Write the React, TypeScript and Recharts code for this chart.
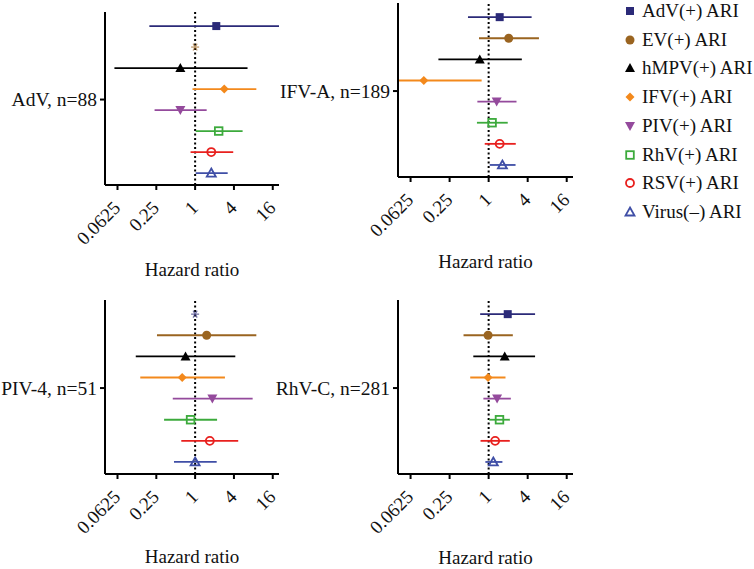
import React from "react";
import {
  ReferenceLine,
  Scatter,
  ScatterChart,
  XAxis,
  YAxis,
} from "recharts";

// series (rows, top to bottom)
const seriesNames = [
  "AdV(+) ARI",
  "EV(+) ARI",
  "hMPV(+) ARI",
  "IFV(+) ARI",
  "PIV(+) ARI",
  "RhV(+) ARI",
  "RSV(+) ARI",
  "Virus(\u2013) ARI",
];
const seriesColors = [
  "#2b2a78",
  "#9a6420",
  "#000000",
  "#f3891c",
  "#944a9c",
  "#3caa3c",
  "#e8201e",
  "#3f4ea6",
];
const seriesShapes = [
  "square",
  "circle",
  "triangle",
  "diamond",
  "downTriangle",
  "openSquare",
  "openCircle",
  "openTriangle",
];

const xTicks = [0.0625, 0.25, 1, 4, 16];

// panels: null hr = not estimable (drawn as * at HR 1)
const panelLabels = ["AdV, n=88", "IFV-A, n=189", "PIV-4, n=51", "RhV-C, n=281"];

const advHr = [2.13, null, 0.59, 2.83, 0.59, 2.32, 1.78, 1.78];
const advLo = [0.195, null, 0.056, 0.91, 0.235, 1.02, 0.85, 1.02];
const advHi = [20, null, 6.5, 8.9, 1.51, 5.45, 3.9, 3.2];

const ifvHr = [1.48, 2.04, 0.73, 0.1, 1.33, 1.13, 1.48, 1.63];
const ifvLo = [0.48, 0.71, 0.168, 0.04, 0.67, 0.66, 0.87, 1.04];
const ifvHi = [4.6, 5.97, 3.25, 0.78, 2.69, 1.97, 2.62, 2.6];

const pivHr = [null, 1.51, 0.71, 0.63, 1.85, 0.85, 1.69, 1.0];
const pivLo = [null, 0.256, 0.12, 0.141, 0.45, 0.33, 0.61, 0.47];
const pivHi = [null, 8.9, 4.2, 2.9, 7.8, 2.19, 4.66, 2.16];

const rhvHr = [1.97, 0.98, 1.77, 0.98, 1.35, 1.47, 1.26, 1.18];
const rhvLo = [0.74, 0.41, 0.58, 0.52, 0.83, 1.02, 0.75, 0.89];
const rhvHi = [5.2, 2.36, 5.2, 1.82, 2.2, 2.12, 2.12, 1.63];

const FONT = "Liberation Serif";

function Marker({ kind, color, cx, cy }: { kind: string; color: string; cx: number; cy: number }) {
  const sw = 1.8;
  switch (kind) {
    case "square":
      return <rect x={cx - 4} y={cy - 4} width={8} height={8} fill={color} />;
    case "circle":
      return <circle cx={cx} cy={cy} r={4.5} fill={color} />;
    case "triangle":
      return <polygon points={`${cx},${cy - 5} ${cx + 5},${cy + 4} ${cx - 5},${cy + 4}`} fill={color} />;
    case "diamond":
      return <polygon points={`${cx},${cy - 4.5} ${cx + 4.5},${cy} ${cx},${cy + 4.5} ${cx - 4.5},${cy}`} fill={color} />;
    case "downTriangle":
      return <polygon points={`${cx - 5},${cy - 4} ${cx + 5},${cy - 4} ${cx},${cy + 5}`} fill={color} />;
    case "openSquare":
      return <rect x={cx - 3.8} y={cy - 3.8} width={7.6} height={7.6} fill="none" stroke={color} strokeWidth={sw} />;
    case "openCircle":
      return <circle cx={cx} cy={cy} r={4} fill="none" stroke={color} strokeWidth={sw} />;
    case "openTriangle":
      return (
        <polygon
          points={`${cx},${cy - 4.5} ${cx + 4.5},${cy + 3.5} ${cx - 4.5},${cy + 3.5}`}
          fill="none"
          stroke={color}
          strokeWidth={sw}
        />
      );
    default:
      return null;
  }
}

function Asterisk({ color, cx, cy }: { color: string; cx: number; cy: number }) {
  const r = 4;
  return (
    <g stroke={color} strokeWidth={1.3} opacity={0.65}>
      <line x1={cx - r} y1={cy} x2={cx + r} y2={cy} />
      <line x1={cx - r * 0.5} y1={cy - r * 0.87} x2={cx + r * 0.5} y2={cy + r * 0.87} />
      <line x1={cx - r * 0.5} y1={cy + r * 0.87} x2={cx + r * 0.5} y2={cy - r * 0.87} />
    </g>
  );
}

function XTick(props: any) {
  const { x, y, payload } = props;
  const ax = x + 4;
  const ay = y + 17;
  return (
    <text
      x={ax}
      y={ay}
      textAnchor="end"
      transform={`rotate(-45, ${ax}, ${ay})`}
      fontSize={19}
      fontFamily={FONT}
      fill="#111"
    >
      {payload.value}
    </text>
  );
}

type PanelProps = {
  label: string;
  hr: (number | null)[];
  lo: (number | null)[];
  hi: (number | null)[];
  left: number;
  top: number;
  width: number;
  height: number;
  yWidth: number;
  margin: { top: number; right: number; bottom: number; left: number };
  xHeight: number;
};

function Panel(p: PanelProps) {
  return (
    <div style={{ position: "absolute", left: p.left, top: p.top }}>
      <ScatterChart width={p.width} height={p.height} margin={p.margin}>
        <XAxis
          type="number"
          dataKey="x"
          scale="log"
          domain={[0.04, 20]}
          allowDataOverflow
          ticks={xTicks}
          tick={<XTick />}
          tickSize={5}
          height={p.xHeight}
          axisLine={{ stroke: "#000", strokeWidth: 2 }}
          tickLine={{ stroke: "#000", strokeWidth: 2 }}
          interval={0}
          label={{
            value: "Hazard ratio",
            position: "insideBottom",
            offset: 0,
            fontSize: 19,
            fontFamily: FONT,
            fill: "#111",
          }}
        />
        <YAxis
          type="number"
          dataKey="y"
          domain={[0.33, 8.57]}
          allowDataOverflow
          reversed
          ticks={[4.5]}
          tickFormatter={() => p.label}
          width={p.yWidth}
          tickSize={5}
          tickMargin={3}
          tick={{ fontSize: 19.5, fontFamily: FONT, fill: "#111" }}
          axisLine={{ stroke: "#000", strokeWidth: 2 }}
          tickLine={{ stroke: "#000", strokeWidth: 2 }}
        />
        <ReferenceLine x={1} stroke="#000" strokeWidth={2} strokeDasharray="2 2.5" />
        {p.hr.map((v, i) =>
          v === null || p.lo[i] === null || p.hi[i] === null ? null : (
            <ReferenceLine
              key={"ci" + i}
              segment={[
                { x: p.lo[i] as number, y: i + 1 },
                { x: p.hi[i] as number, y: i + 1 },
              ]}
              stroke={seriesColors[i]}
              strokeWidth={1.8}
              ifOverflow="visible"
            />
          )
        )}
        {p.hr.map((v, i) => (
          <Scatter
            key={"s" + i}
            data={[{ x: v === null ? 1 : v, y: i + 1 }]}
            isAnimationActive={false}
            shape={(sp: any) =>
              v === null ? (
                <Asterisk color={seriesColors[i]} cx={sp.cx} cy={sp.cy} />
              ) : (
                <Marker kind={seriesShapes[i]} color={seriesColors[i]} cx={sp.cx} cy={sp.cy} />
              )
            }
          />
        ))}
      </ScatterChart>
    </div>
  );
}

function LegendBox() {
  return (
    <div style={{ position: "absolute", left: 622, top: 0, fontFamily: FONT, fontSize: 19, color: "#111" }}>
      {seriesNames.map((name, i) => (
        <div key={name} style={{ position: "absolute", top: i * 28.7, left: 0, height: 22, whiteSpace: "nowrap", display: "flex", alignItems: "center" }}>
          <svg width={16} height={16} style={{ marginRight: 4 }}>
            <Marker kind={seriesShapes[i]} color={seriesColors[i]} cx={8} cy={8} />
          </svg>
          <span>{name}</span>
        </div>
      ))}
    </div>
  );
}

export default function App() {
  return (
    <div style={{ position: "absolute", left: 0, top: 0, width: 754, height: 569, background: "#fff" }}>
      <Panel
        label={panelLabels[0]}
        hr={advHr}
        lo={advLo}
        hi={advHi}
        left={0}
        top={0}
        width={290}
        height={290}
        yWidth={105}
        margin={{ top: 12, right: 11, bottom: 14, left: 0 }}
        xHeight={91}
      />
      <Panel
        label={panelLabels[1]}
        hr={ifvHr}
        lo={ifvLo}
        hi={ifvHi}
        left={270}
        top={0}
        width={320}
        height={290}
        yWidth={128}
        margin={{ top: 3, right: 17, bottom: 22, left: 0 }}
        xHeight={91}
      />
      <Panel
        label={panelLabels[2]}
        hr={pivHr}
        lo={pivLo}
        hi={pivHi}
        left={0}
        top={290}
        width={290}
        height={279}
        yWidth={105}
        margin={{ top: 10, right: 11, bottom: 6, left: 0 }}
        xHeight={89}
      />
      <Panel
        label={panelLabels[3]}
        hr={rhvHr}
        lo={rhvLo}
        hi={rhvHi}
        left={270}
        top={290}
        width={320}
        height={279}
        yWidth={128}
        margin={{ top: 10, right: 17, bottom: 5, left: 0 }}
        xHeight={90}
      />
      <LegendBox />
    </div>
  );
}
